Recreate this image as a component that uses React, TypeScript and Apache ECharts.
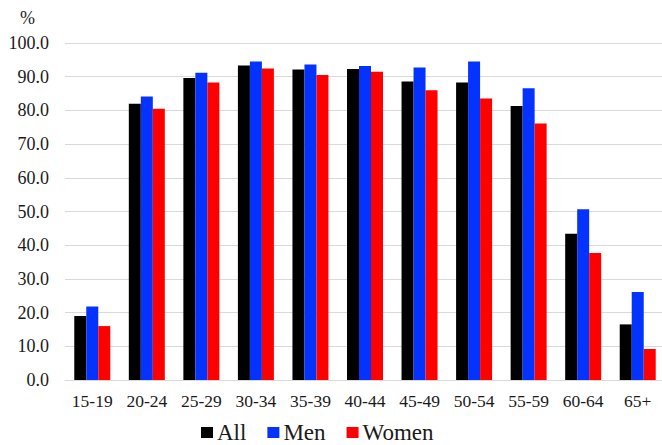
import React, { useEffect, useRef } from "react";
import * as echarts from "echarts";

const categories = ["15-19", "20-24", "25-29", "30-34", "35-39", "40-44", "45-49", "50-54", "55-59", "60-64", "65+"];
const allValues = [19.0, 82.0, 89.6, 93.3, 92.1, 92.3, 88.6, 88.3, 81.3, 43.4, 16.5];
const menValues = [21.8, 84.1, 91.2, 94.5, 93.6, 93.2, 92.7, 94.5, 86.6, 50.7, 26.1];
const womenValues = [16.0, 80.5, 88.3, 92.4, 90.5, 91.5, 86.0, 83.5, 76.1, 37.7, 9.2];
const seriesNames = ["All", "Men", "Women"];
const seriesColors = ["#000000", "#0433ff", "#ff0000"];

const FONT = "Liberation Serif";

export default function App() {
  const ref = useRef<HTMLDivElement>(null);
  useEffect(() => {
    if (!ref.current) return;
    const chart = echarts.init(ref.current, null, { renderer: "svg" });
    const data = [allValues, menValues, womenValues];
    chart.setOption({
      animation: false,
      backgroundColor: "#ffffff",
      textStyle: { fontFamily: FONT },
      grid: { left: 65, right: -3, top: 43, height: 337, outerBoundsMode: "none" },
      graphic: [
        {
          type: "text",
          left: 20,
          top: 9,
          style: { text: "%", fontFamily: FONT, fontSize: 18, fill: "#1a1a1a" },
        },
      ],
      legend: {
        left: 201,
        top: 421,
        padding: 0,
        itemWidth: 12,
        itemHeight: 11,
        itemGap: 21,
        icon: "rect",
        textStyle: { fontFamily: FONT, fontSize: 23, lineHeight: 20, color: "#1a1a1a", padding: [0, 0, 0, -1] },
        data: seriesNames,
      },
      xAxis: {
        type: "category",
        data: categories,
        axisLine: { show: true, lineStyle: { color: "#d9d9d9", width: 1 } },
        axisTick: { show: false },
        axisLabel: { fontFamily: FONT, fontSize: 17.5, color: "#1a1a1a", margin: 12, interval: 0 },
      },
      yAxis: {
        type: "value",
        min: 0,
        max: 100,
        interval: 10,
        axisLine: { show: false },
        axisTick: { show: false },
        splitLine: { lineStyle: { color: "#d9d9d9", width: 1 } },
        axisLabel: {
          fontFamily: FONT,
          fontSize: 18,
          color: "#1a1a1a",
          margin: 16,
          formatter: (v: number) => v.toFixed(1),
        },
      },
      series: seriesNames.map((name, i) => ({
        name,
        type: "bar",
        data: data[i],
        barWidth: 12,
        barGap: "0%",
        itemStyle: { color: seriesColors[i] },
      })),
    });
    return () => chart.dispose();
  }, []);
  return <div ref={ref} style={{ position: "absolute", left: 0, top: 0, width: 662, height: 445 }} />;
}
